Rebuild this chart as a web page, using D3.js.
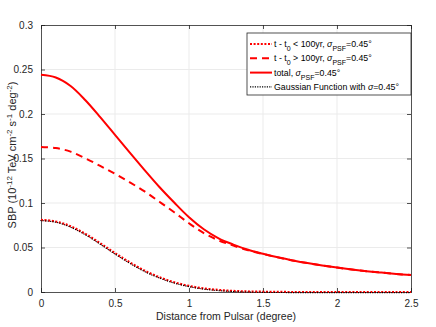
<!DOCTYPE html>
<html>
<head>
<meta charset="utf-8">
<script src="https://cdn.jsdelivr.net/npm/d3@7"></script>
<style>
  body { margin: 0; background: #fff; }
  svg { font-family: "Liberation Sans", Arial, sans-serif; }
</style>
</head>
<body>
<div id="chart"></div>
<script>
// distance from pulsar (degree)
var distance = [0, 0.1, 0.2, 0.3, 0.4, 0.5, 0.6, 0.7, 0.8, 0.9, 1.0, 1.1, 1.2,
  1.3, 1.4, 1.5, 1.6, 1.7, 1.8, 1.9, 2.0, 2.1, 2.2, 2.3, 2.4, 2.5];

// SBP values
var youngSBP = [0.081, 0.0792, 0.0738, 0.0653, 0.0548, 0.0437, 0.0333, 0.0240, 0.0166,
  0.0109, 0.0068, 0.0040, 0.0023, 0.0012, 0.0006, 0.0003, 0.0001, 0, 0, 0, 0, 0, 0, 0, 0, 0];
var oldSBP = [0.163, 0.1618, 0.1577, 0.1502, 0.1417, 0.1328, 0.1232, 0.1130, 0.1014,
  0.0896, 0.0772, 0.0662, 0.0580, 0.0521, 0.0468, 0.0427, 0.0389, 0.0355, 0.0325,
  0.0298, 0.0274, 0.0253, 0.0234, 0.0218, 0.0203, 0.0190];
var totalSBP = [0.244, 0.241, 0.2315, 0.2155, 0.1965, 0.1765, 0.1565, 0.137, 0.118,
  0.1005, 0.084, 0.0705, 0.0603, 0.0533, 0.0474, 0.0430, 0.0390, 0.0355, 0.0325,
  0.0298, 0.0274, 0.0253, 0.0234, 0.0218, 0.0203, 0.0190];
var gaussSBP = [0.081, 0.0792, 0.0738, 0.0653, 0.0548, 0.0437, 0.0333, 0.0240, 0.0166,
  0.0109, 0.0068, 0.0040, 0.0023, 0.0012, 0.0006, 0.0003, 0.0001, 0, 0, 0, 0, 0, 0, 0, 0, 0];

var xTicks = [0, 0.5, 1, 1.5, 2, 2.5];
var yTicks = [0, 0.05, 0.1, 0.15, 0.2, 0.25, 0.3];

var width = 436, height = 327;
var margin = { top: 25, right: 25, bottom: 35, left: 41 };
var w = width - margin.left - margin.right;
var h = height - margin.top - margin.bottom;

var svg = d3.select("#chart").append("svg")
  .attr("width", width)
  .attr("height", height);

var g = svg.append("g")
  .attr("transform", "translate(" + margin.left + "," + margin.top + ")");

var x = d3.scaleLinear().domain([0, 2.5]).range([0, w]);
var y = d3.scaleLinear().domain([0, 0.3]).range([h, 0]);

// grid
g.append("g").selectAll("line").data(xTicks.slice(1, -1)).enter().append("line")
  .attr("x1", d => x(d)).attr("x2", d => x(d))
  .attr("y1", 0).attr("y2", h)
  .attr("stroke", "#ebebeb").attr("stroke-width", 1);
g.append("g").selectAll("line").data(yTicks.slice(1, -1)).enter().append("line")
  .attr("y1", d => y(d)).attr("y2", d => y(d))
  .attr("x1", 0).attr("x2", w)
  .attr("stroke", "#ebebeb").attr("stroke-width", 1);

// axes
var axisColor = "#262626";
var xAxis = g.append("g")
  .attr("transform", "translate(0," + h + ")")
  .call(d3.axisBottom(x).tickValues(xTicks).tickSize(-4).tickPadding(8).tickFormat(d3.format("")));
var xTop = g.append("g")
  .call(d3.axisTop(x).tickValues(xTicks).tickSize(-4).tickFormat(""));
var yAxis = g.append("g")
  .call(d3.axisLeft(y).tickValues(yTicks).tickSize(-4).tickPadding(8).tickFormat(d3.format("")));
var yRight = g.append("g")
  .attr("transform", "translate(" + w + ",0)")
  .call(d3.axisRight(y).tickValues(yTicks).tickSize(-4).tickFormat(""));

[xAxis, xTop, yAxis, yRight].forEach(function(a) {
  a.select(".domain").attr("stroke", axisColor).attr("stroke-width", 0.8);
  a.selectAll(".tick line").attr("stroke", axisColor).attr("stroke-width", 0.8);
  a.selectAll("text").attr("fill", axisColor).style("font-size", "10px");
});

// lines
var line = d3.line()
  .x((d, i) => x(distance[i]))
  .y(d => y(d))
  .curve(d3.curveCatmullRom.alpha(0.5));

g.append("path").datum(totalSBP).attr("d", line)
  .attr("fill", "none").attr("stroke", "#ff0000").attr("stroke-width", 2);
g.append("path").datum(oldSBP).attr("d", line)
  .attr("fill", "none").attr("stroke", "#ff0000").attr("stroke-width", 2)
  .attr("stroke-dasharray", "7,5");
g.append("path").datum(youngSBP).attr("d", line)
  .attr("fill", "none").attr("stroke", "#ff0000").attr("stroke-width", 2.2)
  .attr("stroke-dasharray", "2,1.6");
g.append("path").datum(gaussSBP).attr("d", line)
  .attr("transform", "translate(-0.6,0.6)")
  .attr("fill", "none").attr("stroke", "#000").attr("stroke-width", 1.1)
  .attr("stroke-dasharray", "1.2,1.2");

// axis labels
svg.append("text")
  .attr("x", margin.left + w / 2).attr("y", 320)
  .attr("text-anchor", "middle")
  .attr("fill", axisColor)
  .style("font-size", "10.5px")
  .text("Distance from Pulsar (degree)");

var yl = svg.append("text")
  .attr("transform", "translate(15.5,155) rotate(-90)")
  .attr("text-anchor", "middle")
  .attr("fill", axisColor)
  .style("font-size", "11px");
[["SBP (10", 0], ["-12", 1], [" TeV cm", 0], ["-2", 1], [" s", 0], ["-1", 1],
 [" deg", 0], ["-2", 1], [")", 0]].forEach(function(p) {
  yl.append("tspan")
    .attr("baseline-shift", p[1] ? "super" : null)
    .style("font-size", p[1] ? "8px" : null)
    .text(p[0]);
});

// legend
var legend = svg.append("g").attr("transform", "translate(247,33)");
legend.append("rect")
  .attr("width", 164).attr("height", 62)
  .attr("fill", "#fff").attr("stroke", "#262626").attr("stroke-width", 0.8);

var legendItems = [
  { parts: [["t - t", 0], ["0", -1], [" < 100yr, ", 0], ["σ", 2], ["PSF", -1], ["=0.45°", 0]],
    stroke: "#ff0000", width: 2.2, dash: "2,1.6" },
  { parts: [["t - t", 0], ["0", -1], [" > 100yr, ", 0], ["σ", 2], ["PSF", -1], ["=0.45°", 0]],
    stroke: "#ff0000", width: 2, dash: "7,5" },
  { parts: [["total, ", 0], ["σ", 2], ["PSF", -1], ["=0.45°", 0]],
    stroke: "#ff0000", width: 2, dash: null },
  { parts: [["Gaussian Function with ", 0], ["σ", 2], ["=0.45°", 0]],
    stroke: "#000", width: 1.1, dash: "1.2,1.2" }
];

legendItems.forEach(function(item, i) {
  var ly = 11 + i * 14.3;
  legend.append("line")
    .attr("x1", 3).attr("x2", 25).attr("y1", ly).attr("y2", ly)
    .attr("stroke", item.stroke).attr("stroke-width", item.width)
    .attr("stroke-dasharray", item.dash);
  var t = legend.append("text")
    .attr("x", 27).attr("y", ly + 3)
    .attr("fill", "#000")
    .style("font-size", "8.8px");
  item.parts.forEach(function(p) {
    var ts = t.append("tspan").text(p[0]);
    if (p[1] === -1) ts.attr("baseline-shift", "sub").style("font-size", "7px");
    if (p[1] === 2) ts.style("font-style", "italic");
  });
});
</script>
</body>
</html>
